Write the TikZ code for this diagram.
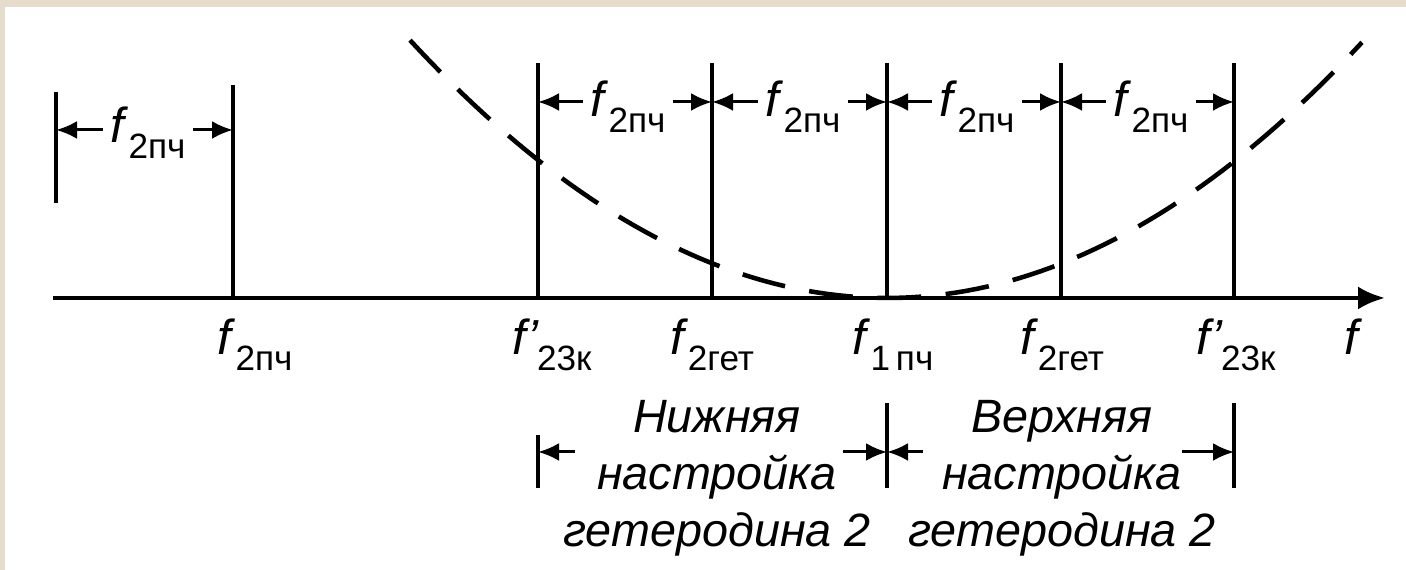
\documentclass[tikz,border=0pt]{standalone}
\usepackage{fontspec}
\setmainfont{Liberation Sans}
\usetikzlibrary{arrows.meta, positioning}
\definecolor{paper}{RGB}{230,220,203}

\newcommand{\fs}[1]{\textit{f}\raisebox{-4.5pt}{\fontsize{10}{10}\selectfont #1}}
\newcommand{\fp}[1]{\textit{f\kern0.3pt’}\kern-0.5pt\raisebox{-4.5pt}{\fontsize{10}{10}\selectfont #1}}

\begin{document}
\begin{tikzpicture}[
    every node/.style={inner sep=0pt},
    stem/.style={line width=1pt},
    axis/.style={line width=1.2pt, -{Latex[length=2.7mm,width=2.3mm]}},
    dim/.style={line width=0.85pt, -{Latex[length=2.1mm,width=1.8mm]}},
    curve/.style={line width=1.3pt, dash pattern=on 12.5pt off 7pt},
    lbl/.style={font=\fontsize{14}{16}\selectfont, anchor=base},
    gap/.style={lbl, inner xsep=0.07cm},
    note/.style={font=\fontsize{13.3}{16.2}\selectfont\itshape, align=center}
]

\useasboundingbox (0,0) rectangle (14.06,5.70);
\fill[paper] (0,0) rectangle (14.06,5.70);
\fill[white] (0.05,0) rectangle (14.06,5.63);

% axis
\coordinate (o) at (0.53,2.72);
\coordinate (e) at (13.85,2.72);
\draw[axis] (o) -- (e);

% spectral lines
\coordinate (p0) at (0.56,3.67);  \coordinate (p0t) at (0.56,4.78);
\coordinate (p1) at (2.33,2.72);  \coordinate (p1t) at (2.33,4.85);
\coordinate (p2) at (5.38,2.72);  \coordinate (p2t) at (5.38,5.07);
\coordinate (p3) at (7.12,2.72);  \coordinate (p3t) at (7.12,5.07);
\coordinate (p4) at (8.87,2.72);  \coordinate (p4t) at (8.87,5.07);
\coordinate (p5) at (10.61,2.72); \coordinate (p5t) at (10.61,5.07);
\coordinate (p6) at (12.34,2.72); \coordinate (p6t) at (12.34,5.07);

\draw[stem] (p0) -- (p0t);
\draw[stem] (p1) -- (p1t);
\draw[stem] (p2) -- (p2t);
\draw[stem] (p3) -- (p3t);
\draw[stem] (p4) -- (p4t);
\draw[stem] (p5) -- (p5t);
\draw[stem] (p6) -- (p6t);

% selectivity curve
\draw[curve] plot[domain=4.1:13.62, samples=90] (\x,{2.72+0.1133*(\x-8.87)^2});

% spacings
\coordinate (r0) at (0,4.40);
\coordinate (r1) at (0,4.68);

\node[gap] (d01) at (1.48,4.27) {\fs{2пч}};
\draw[dim] (d01.west |- r0) -- (p0 |- r0);
\draw[dim] (d01.east |- r0) -- (p1 |- r0);

\node[gap] (d23) at (6.28,4.53) {\fs{2пч}};
\node[gap] (d34) at (8.03,4.53) {\fs{2пч}};
\node[gap] (d45) at (9.77,4.53) {\fs{2пч}};
\node[gap] (d56) at (11.51,4.53) {\fs{2пч}};
\draw[dim] (d23.west |- r1) -- (p2 |- r1);
\draw[dim] (d23.east |- r1) -- (p3 |- r1);
\draw[dim] (d34.west |- r1) -- (p3 |- r1);
\draw[dim] (d34.east |- r1) -- (p4 |- r1);
\draw[dim] (d45.west |- r1) -- (p4 |- r1);
\draw[dim] (d45.east |- r1) -- (p5 |- r1);
\draw[dim] (d56.west |- r1) -- (p5 |- r1);
\draw[dim] (d56.east |- r1) -- (p6 |- r1);

% axis labels
\node[lbl] (l1) at (2.55,2.15) {\fs{2пч}};
\node[lbl] (l2) at (5.52,2.15) {\fp{23к}};
\node[lbl] (l3) at (7.12,2.15) {\fs{2гет}};
\node[lbl] (l4) at (8.93,2.15) {\fs{1\,пч}};
\node[lbl] (l5) at (10.62,2.15) {\fs{2гет}};
\node[lbl] (l6) at (12.36,2.15) {\fp{23к}};
\node[lbl] (lf) at (13.53,2.15) {\textit{f}};

% tuning ranges
\coordinate (q2) at (5.38,0.82);  \coordinate (q2t) at (5.38,1.35);
\coordinate (q4) at (8.87,0.82);  \coordinate (q4t) at (8.87,1.67);
\coordinate (q6) at (12.34,0.82); \coordinate (q6t) at (12.34,1.67);
\draw[stem] (q2) -- (q2t);
\draw[stem] (q4) -- (q4t);
\draw[stem] (q6) -- (q6t);

\node[note] (lower) at (7.17,0.92) {Нижняя\\настройка\\гетеродина 2};
\node[note] (upper) at (10.62,0.92) {Верхняя\\настройка\\гетеродина 2};

\coordinate (r2) at (0,1.18);
\coordinate (s1) at (5.75,1.18);
\coordinate (s2) at (8.43,1.18);
\coordinate (s3) at (9.23,1.18);
\coordinate (s4) at (11.82,1.18);
\draw[dim] (s1) -- (q2 |- r2);
\draw[dim] (s2) -- (q4 |- r2);
\draw[dim] (s3) -- (q4 |- r2);
\draw[dim] (s4) -- (q6 |- r2);

\end{tikzpicture}
\end{document}
